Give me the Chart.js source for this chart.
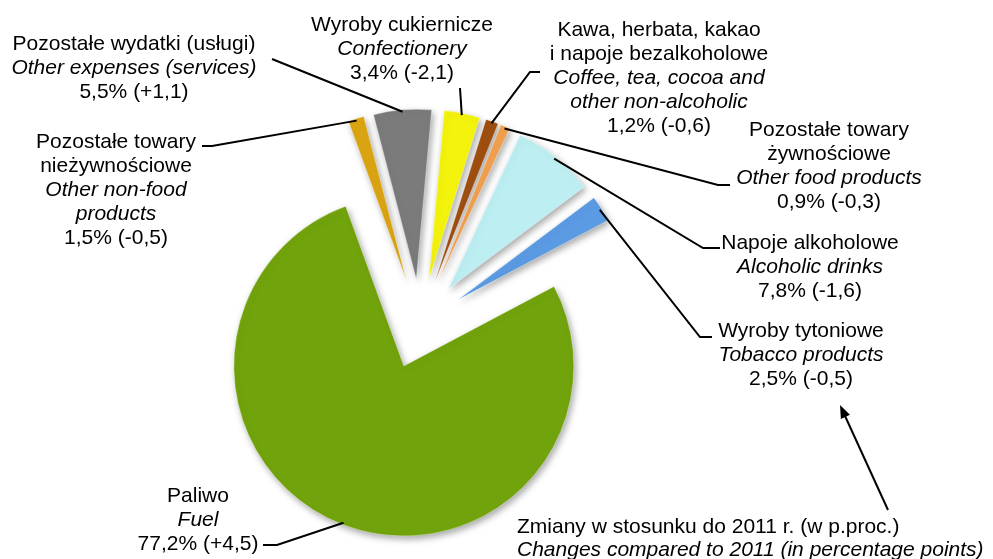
<!DOCTYPE html>
<html>
<head>
<meta charset="utf-8">
<script src="https://cdn.jsdelivr.net/npm/chart.js@4.4.0/dist/chart.umd.min.js"></script>
<style>
  body { margin: 0; background: #fff; }
  canvas { display: block; }
</style>
</head>
<body>
<canvas id="struktura" width="993" height="559"></canvas>
<script>
// struktura wydatkow (udzial w % i zmiana w p.proc.)
const namesPl = [
  ['Pozostałe towary', 'nieżywnościowe'],
  ['Pozostałe wydatki (usługi)'],
  ['Wyroby cukiernicze'],
  ['Kawa, herbata, kakao', 'i napoje bezalkoholowe'],
  ['Pozostałe towary', 'żywnościowe'],
  ['Napoje alkoholowe'],
  ['Wyroby tytoniowe'],
  ['Paliwo']
];
const namesEn = [
  ['Other non-food', 'products'],
  ['Other expenses (services)'],
  ['Confectionery'],
  ['Coffee, tea, cocoa and', 'other non-alcoholic'],
  ['Other food products'],
  ['Alcoholic drinks'],
  ['Tobacco products'],
  ['Fuel']
];
const shares = [1.5, 5.5, 3.4, 1.2, 0.9, 7.8, 2.5, 77.2];
const changes = [-0.5, 1.1, -2.1, -0.6, -0.3, -1.6, -0.5, 4.5];

const noteLines = [
  'Zmiany w stosunku do 2011 r. (w p.proc.)',
  'Changes compared to 2011 (in percentage points)'
];

// kolory plasterkow
const colors = ['#dba412', '#7b7b7b', '#f3f30c', '#9f4f10', '#f0a050', '#bdeef2', '#5b9be3', '#71a30c'];

// polozenie podpisow (srodek pierwszej linii) i poczatki linii odniesienia
const labelPos = [[116, 142], [134, 44], [402, 25], [659, 30], [829, 130], [810, 243], [801, 331], [198, 496]];
const leaderFrom = [
  [[202, 146], [212, 146]],
  [[272, 59]],
  [[460, 88]],
  [[540, 72], [530, 72]],
  [[730, 185], [718, 185]],
  [[720, 248], [703, 248]],
  [[712, 337], [700, 337]],
  [[263, 545], [277, 545]]
];

const EXPLODE = 45;
const LINE_H = 24;
const FONT = '"Liberation Sans", Arial, sans-serif';

function valueText(i) {
  const s = shares[i].toFixed(1).replace('.', ',');
  const c = (changes[i] > 0 ? '+' : '') + changes[i].toFixed(1).replace('.', ',');
  return s + '% (' + c + ')';
}

// kazdy kawalek odsuniety o te sama odleglosc + cien
const explodePlugin = {
  id: 'explode',
  beforeDatasetDraw(chart, args) {
    const ctx = chart.ctx;
    args.meta.data.forEach(arc => {
      const mid = (arc.startAngle + arc.endAngle) / 2;
      ctx.save();
      ctx.translate(Math.cos(mid) * EXPLODE, Math.sin(mid) * EXPLODE);
      ctx.shadowColor = 'rgba(0,0,0,0.35)';
      ctx.shadowBlur = 7;
      ctx.shadowOffsetX = 2;
      ctx.shadowOffsetY = 3;
      arc.draw(ctx);
      ctx.restore();
    });
    return false;
  }
};

const labelPlugin = {
  id: 'labels',
  afterDraw(chart) {
    const ctx = chart.ctx;
    const arcs = chart.getDatasetMeta(0).data;
    ctx.save();
    ctx.strokeStyle = '#000';
    ctx.lineWidth = 2;
    arcs.forEach((arc, i) => {
      const mid = (arc.startAngle + arc.endAngle) / 2;
      const r = arc.outerRadius - 2 + EXPLODE;
      const pts = leaderFrom[i];
      ctx.beginPath();
      ctx.moveTo(pts[0][0], pts[0][1]);
      for (let k = 1; k < pts.length; k++) ctx.lineTo(pts[k][0], pts[k][1]);
      ctx.lineTo(arc.x + Math.cos(mid) * r, arc.y + Math.sin(mid) * r);
      ctx.stroke();

      const lines = [];
      namesPl[i].forEach(t => lines.push([t, false]));
      namesEn[i].forEach(t => lines.push([t, true]));
      lines.push([valueText(i), false]);
      ctx.fillStyle = '#000';
      ctx.textAlign = 'center';
      ctx.textBaseline = 'middle';
      lines.forEach((l, k) => {
        ctx.font = (l[1] ? 'italic ' : '') + '21px ' + FONT;
        ctx.fillText(l[0], labelPos[i][0], labelPos[i][1] + k * LINE_H);
      });
    });

    // objasnienie ze strzalka
    ctx.textAlign = 'left';
    ctx.font = '21px ' + FONT;
    ctx.fillText(noteLines[0], 517, 527);
    ctx.font = 'italic 21px ' + FONT;
    ctx.fillText(noteLines[1], 517, 550);

    const x1 = 888, y1 = 510, x2 = 840, y2 = 405;
    const ang = Math.atan2(y2 - y1, x2 - x1);
    ctx.beginPath();
    ctx.moveTo(x1, y1);
    ctx.lineTo(x2 - Math.cos(ang) * 8, y2 - Math.sin(ang) * 8);
    ctx.stroke();
    ctx.beginPath();
    ctx.moveTo(x2, y2);
    ctx.lineTo(x2 - Math.cos(ang) * 13 + Math.sin(ang) * 5, y2 - Math.sin(ang) * 13 - Math.cos(ang) * 5);
    ctx.lineTo(x2 - Math.cos(ang) * 13 - Math.sin(ang) * 5, y2 - Math.sin(ang) * 13 + Math.cos(ang) * 5);
    ctx.closePath();
    ctx.fillStyle = '#000';
    ctx.fill();
    ctx.restore();
  }
};

const data = {
  labels: namesPl.map(n => n.join(' ')),
  datasets: [{
    data: shares,
    backgroundColor: colors,
    borderColor: 'rgba(255,255,255,0.35)',
    borderWidth: 1
  }]
};

const config = {
  type: 'pie',
  data: data,
  options: {
    responsive: false,
    animation: false,
    rotation: -20,
    radius: 170,
    layout: {
      padding: { left: 0, right: 153, top: 89, bottom: 0 }
    },
    plugins: {
      legend: { display: false },
      tooltip: { enabled: false }
    }
  },
  plugins: [explodePlugin, labelPlugin]
};

const myChart = new Chart(document.getElementById('struktura'), config);
</script>
</body>
</html>
